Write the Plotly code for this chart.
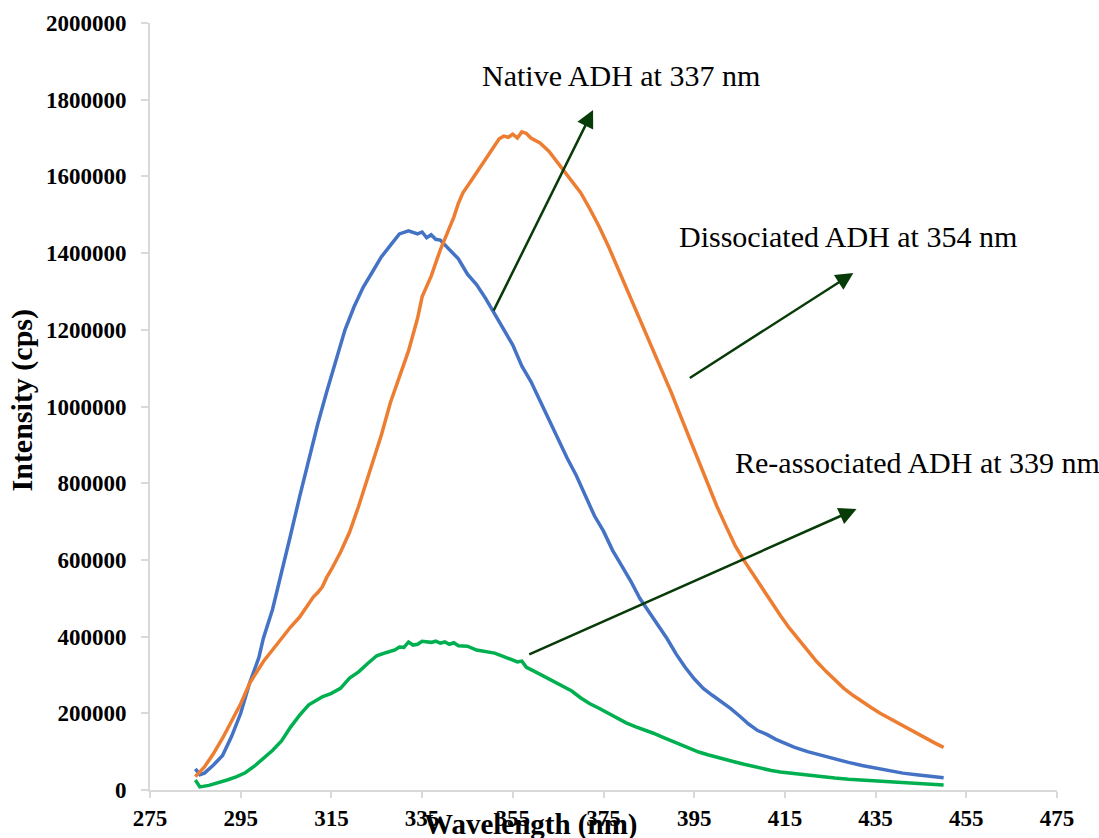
import plotly.graph_objects as go

# ---------------- data ----------------
native_x = [285, 286, 287, 289, 291, 293, 295, 297, 299, 300, 302, 304, 306, 308, 310, 312, 314, 316, 318,
            320, 322, 324, 326, 328, 330, 332, 334, 335, 336, 337, 338, 339, 341, 343, 345, 347, 349, 351,
            353, 355, 357, 359, 361, 363, 365, 367, 369, 371, 373, 375, 377, 379, 381, 383, 385, 387, 389,
            391, 393, 395, 397, 399, 401, 403, 405, 407, 409, 411, 413, 415, 417, 420, 423, 426, 429, 432,
            435, 438, 441, 444, 447, 450]
native_y = [55000, 40000, 44000, 65000, 90000, 140000, 200000, 280000, 345000, 396000, 470000, 565000,
            665000, 765000, 860000, 955000, 1040000, 1120000, 1200000, 1260000, 1311000, 1350000, 1390000,
            1420000, 1450000, 1458000, 1450000, 1455000, 1440000, 1448000, 1436000, 1434000, 1410000,
            1385000, 1345000, 1318000, 1282000, 1240000, 1200000, 1160000, 1105000, 1065000, 1015000,
            965000, 913000, 865000, 820000, 765000, 715000, 675000, 625000, 585000, 545000, 500000, 465000,
            430000, 395000, 355000, 320000, 290000, 265000, 247000, 230000, 213000, 193000, 172000, 155000,
            145000, 132000, 122000, 112000, 100000, 90000, 81000, 72000, 64000, 57000, 50000, 44000, 40000,
            36000, 32000]

dissoc_x = [285, 287, 289, 291, 293, 295, 297, 299, 300, 302, 304, 306, 308, 310, 311, 312, 313, 314, 315,
            317, 319, 321, 323, 325, 326, 328, 330, 332, 334, 335, 337, 339, 341, 342, 343, 344, 346, 348,
            350, 351, 352, 353, 354, 355, 356, 357, 358, 359, 361, 363, 365, 367, 369, 370, 372, 374, 376,
            378, 380, 382, 384, 386, 388, 390, 392, 394, 396, 398, 400, 402, 404, 406, 408, 410, 412, 414,
            416, 418, 420, 422, 424, 426, 428, 430, 432, 434, 436, 438, 440, 442, 444, 446, 448, 450]
dissoc_y = [35000, 60000, 95000, 135000, 180000, 225000, 279000, 315000, 335000, 365000, 395000, 425000,
            451000, 485000, 503000, 515000, 530000, 555000, 575000, 620000, 672000, 740000, 816000, 890000,
            925000, 1010000, 1080000, 1145000, 1230000, 1286000, 1340000, 1408000, 1465000, 1494000,
            1530000, 1557000, 1592000, 1628000, 1662000, 1680000, 1698000, 1705000, 1702000, 1710000,
            1700000, 1716000, 1712000, 1700000, 1687000, 1665000, 1635000, 1602000, 1575000, 1557000,
            1515000, 1470000, 1420000, 1365000, 1310000, 1255000, 1200000, 1145000, 1095000, 1035000,
            975000, 915000, 860000, 800000, 740000, 688000, 638000, 598000, 562000, 525000, 490000, 455000,
            422000, 392000, 362000, 335000, 310000, 286000, 265000, 247000, 230000, 215000, 200000, 187000,
            173000, 160000, 147000, 136000, 123000, 111000]

reassoc_x = [285, 286, 288, 290, 292, 294, 296, 298, 300, 302, 304, 306, 308, 310, 312, 313, 315, 317, 319,
             321, 323, 325, 327, 329, 330, 331, 332, 333, 334, 335, 337, 338, 339, 340, 341, 342, 343, 345,
             347, 349, 351, 353, 355, 356, 357, 358, 360, 362, 364, 366, 368, 370, 372, 374, 376, 378, 380,
             382, 384, 386, 388, 390, 392, 394, 396, 398, 400, 402, 404, 406, 408, 410, 412, 414, 416, 418,
             420, 423, 426, 429, 432, 435, 438, 441, 444, 447, 450]
reassoc_y = [26000, 8000, 12000, 18000, 26000, 34000, 45000, 62000, 82000, 103000, 128000, 164000, 195000,
             222000, 236000, 243000, 252000, 265000, 292000, 308000, 330000, 350000, 358000, 365000, 373000,
             372000, 386000, 378000, 380000, 388000, 385000, 388000, 383000, 386000, 380000, 384000, 376000,
             375000, 365000, 360000, 357000, 348000, 340000, 334000, 336000, 320000, 308000, 295000, 282000,
             269000, 258000, 240000, 225000, 213000, 200000, 187000, 175000, 165000, 157000, 148000, 138000,
             128000, 118000, 107000, 99000, 92000, 85000, 78000, 73000, 67000, 61000, 55000, 51000, 47000,
             44000, 41000, 38000, 34000, 31000, 28000, 26000, 24000, 21000, 19000, 17000, 15000, 13000]

x_ticks = [275, 295, 315, 335, 355, 375, 395, 415, 435, 455, 475]
y_ticks = [0, 200000, 400000, 600000, 800000, 1000000, 1200000, 1400000, 1600000, 1800000, 2000000]

labels = ["Native ADH at 337 nm", "Dissociated ADH at 354 nm", "Re-associated ADH at 339 nm"]

# ---------------- figure ----------------
SERIF = "Liberation Serif, Times New Roman, serif"
AXIS_GRAY = "#d9d9d9"
ARROW = "#073b07"

fig = go.Figure()
fig.add_trace(go.Scatter(x=native_x, y=native_y, mode="lines", name="Native",
                         line=dict(color="#4472C4", width=3.5)))
fig.add_trace(go.Scatter(x=dissoc_x, y=dissoc_y, mode="lines", name="Dissociated",
                         line=dict(color="#ED7D31", width=3.5)))
fig.add_trace(go.Scatter(x=reassoc_x, y=reassoc_y, mode="lines", name="Re-associated",
                         line=dict(color="#00B050", width=3.5)))

fig.update_layout(
    width=1099, height=838,
    margin=dict(l=150, r=42, t=23, b=48, autoexpand=False),
    paper_bgcolor="white", plot_bgcolor="white",
    showlegend=False,
    font=dict(family=SERIF, color="black"),
)

fig.update_xaxes(
    range=[275, 475], tickvals=x_ticks, ticktext=[f"<b>{v}</b>" for v in x_ticks],
    showgrid=False, zeroline=False, showline=True, linecolor=AXIS_GRAY, linewidth=2,
    ticks="outside", ticklen=6, tickwidth=2, tickcolor=AXIS_GRAY,
    tickfont=dict(family=SERIF, size=23, color="black"), automargin=False,
    ticklabelstandoff=0,
)
fig.update_yaxes(
    range=[0, 2000000], tickvals=y_ticks, ticktext=[f"<b>{v}</b>" for v in y_ticks],
    showgrid=False, zeroline=False, showline=True, linecolor=AXIS_GRAY, linewidth=2,
    ticks="outside", ticklen=7, tickwidth=2, tickcolor=AXIS_GRAY,
    tickfont=dict(family=SERIF, size=23, color="black"), automargin=False,
    ticklabelstandoff=10,
)

# axis titles
fig.add_annotation(text="<b>Wavelength (nm)</b>", xref="paper", yref="paper", x=0.419, y=-0.0456,
                   xanchor="center", yanchor="middle", showarrow=False,
                   font=dict(family=SERIF, size=29, color="black"))
fig.add_annotation(text="<b>Intensity (cps)</b>", xref="paper", yref="paper", x=-0.141, y=0.508,
                   xanchor="center", yanchor="middle", showarrow=False, textangle=-90,
                   font=dict(family=SERIF, size=30, color="black"))

# text labels
label_pos = [(378.9, 1864000), (429.0, 1442000), (444.3, 853000)]
for txt, (lx, ly) in zip(labels, label_pos):
    fig.add_annotation(text=txt, x=lx, y=ly, xref="x", yref="y", showarrow=False,
                       xanchor="center", yanchor="middle",
                       font=dict(family=SERIF, size=30, color="black"))

# arrows (tail -> head)
arrows = [((350.6, 1246000), (372.7, 1773000)),
          ((393.7, 1072000), (430.1, 1348000)),
          ((358.3, 352000), (430.8, 733000))]
for (tx, ty), (hx, hy) in arrows:
    fig.add_annotation(text="", x=hx, y=hy, ax=tx, ay=ty, xref="x", yref="y", axref="x", ayref="y",
                       showarrow=True, arrowhead=2, arrowsize=1.4, arrowwidth=2.5, arrowcolor=ARROW,
                       standoff=0)

fig.write_html("out.html")
